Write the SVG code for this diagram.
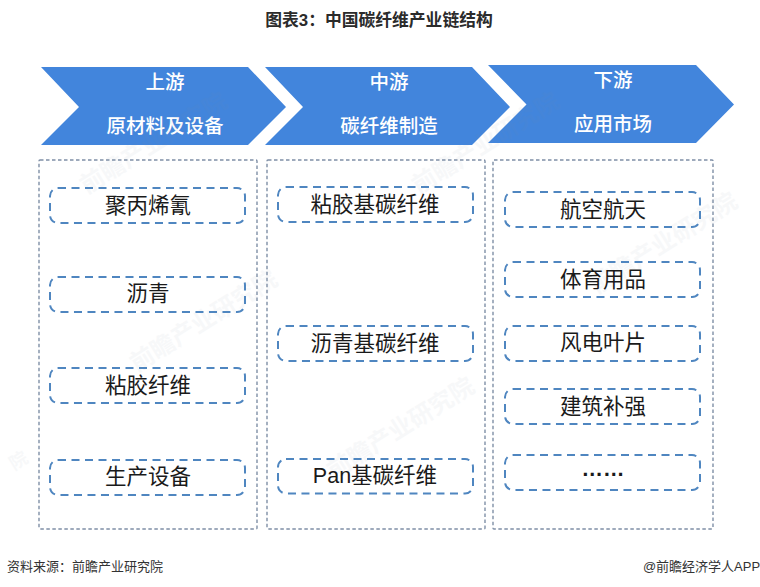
<svg xmlns="http://www.w3.org/2000/svg" width="760" height="587" viewBox="0 0 760 587">
<style>
text{font-family:"Liberation Sans","Noto Sans CJK SC",sans-serif;text-anchor:middle}
.chev{fill:#4285dc}
.panel{fill:none;stroke:#7f8fa6;stroke-width:1.4;stroke-dasharray:3.5 2.5}
.pill{fill:none;stroke:#4f86c0;stroke-width:2;stroke-dasharray:8 5.5}
.head{fill:#fff;font-size:19.500px;font-weight:500}
.item{fill:#1a1a1a;font-size:21.500px}
.foot{fill:#333;font-size:13px}
.wm{fill:#7d8ea3;opacity:.055;font-size:24px;font-weight:700}
</style>
<rect width="760" height="587" fill="#fff"/>
<text x="379" y="26" font-size="16.800px" font-weight="700" fill="#2b2b2b">图表3：中国碳纤维产业链结构</text>
<g id="stage-upstream">
<polygon class="chev" points="41,67 248,67 286,107 248,145 41,145 79,107"/>
<text class="head" x="165" y="89">上游</text>
<text class="head" x="165" y="133">原材料及设备</text>
</g>
<g id="stage-midstream">
<polygon class="chev" points="265,67 472,67 510,107 472,145 265,145 303,107"/>
<text class="head" x="389" y="89">中游</text>
<text class="head" x="389" y="133">碳纤维制造</text>
</g>
<g id="stage-downstream">
<polygon class="chev" points="488,65 696,65 734,104.500 696,143 488,143 526.500,104.500"/>
<text class="head" x="613" y="87">下游</text>
<text class="head" x="613" y="131">应用市场</text>
</g>
<g id="watermarks">
<text class="wm" transform="translate(158,150) rotate(-32)">前瞻产业研究院</text>
<text class="wm" transform="translate(208,328) rotate(-32)">前瞻产业研究院</text>
<text class="wm" transform="translate(490,150) rotate(-32)">前瞻产业研究院</text>
<text class="wm" transform="translate(405,435) rotate(-32)">前瞻产业研究院</text>
<text class="wm" transform="translate(668,250) rotate(-32)">前瞻产业研究院</text>
<text class="wm" style="font-size:18px" transform="translate(22,466) rotate(-32)">院</text>
</g>
<g id="panel-upstream"><rect class="panel" x="39" y="160" width="218" height="369" rx="1"/></g>
<g id="panel-midstream"><rect class="panel" x="267" y="160" width="218" height="369" rx="1"/></g>
<g id="panel-downstream"><rect class="panel" x="493" y="160" width="220" height="369" rx="1"/></g>
<g id="u1"><rect class="pill" x="50" y="188" width="195" height="35" rx="8"/><text class="item" x="148" y="213">聚丙烯氰</text></g>
<g id="u2"><rect class="pill" x="50" y="277" width="195" height="35" rx="8"/><text class="item" x="148" y="301">沥青</text></g>
<g id="u3"><rect class="pill" x="50" y="368" width="195" height="35" rx="8"/><text class="item" x="148" y="393">粘胶纤维</text></g>
<g id="u4"><rect class="pill" x="50" y="460" width="195" height="35" rx="8"/><text class="item" x="148" y="484">生产设备</text></g>
<g id="m1"><rect class="pill" x="278" y="187" width="195" height="35" rx="8"/><text class="item" x="375" y="212">粘胶基碳纤维</text></g>
<g id="m2"><rect class="pill" x="278" y="326" width="195" height="35" rx="8"/><text class="item" x="375" y="351">沥青基碳纤维</text></g>
<g id="m3"><rect class="pill" x="278" y="459" width="195" height="34.500" rx="8"/><text class="item" x="375" y="483">Pan基碳纤维</text></g>
<g id="d1"><rect class="pill" x="505" y="192" width="195" height="35" rx="8"/><text class="item" x="603" y="217">航空航天</text></g>
<g id="d2"><rect class="pill" x="505" y="262" width="195" height="35" rx="8"/><text class="item" x="603" y="287">体育用品</text></g>
<g id="d3"><rect class="pill" x="505" y="326" width="195" height="35" rx="8"/><text class="item" x="603" y="350">风电叶片</text></g>
<g id="d4"><rect class="pill" x="505" y="389" width="195" height="35" rx="8"/><text class="item" x="603" y="414">建筑补强</text></g>
<g id="d5"><rect class="pill" x="505" y="455" width="195" height="35" rx="8"/><text class="item" x="603" y="476" font-weight="700">……</text></g>
<text class="foot" x="85" y="571">资料来源：前瞻产业研究院</text>
<text class="foot" x="701.500" y="571">@前瞻经济学人APP</text>
<g id="connectors"/>
</svg>
